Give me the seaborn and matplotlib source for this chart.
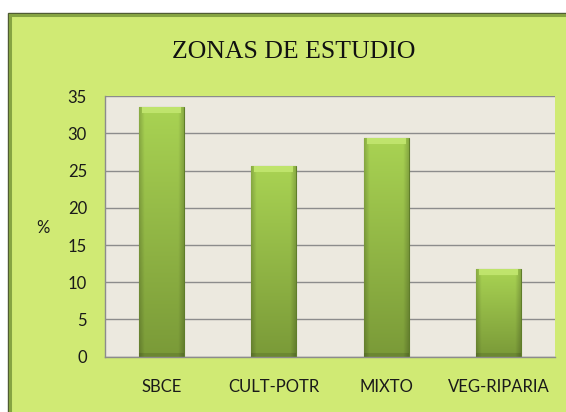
import numpy as np
import pandas as pd
import seaborn as sns
import matplotlib.pyplot as plt
from matplotlib.patches import Rectangle
from matplotlib.colors import to_rgb

# datos
categorias = ["SBCE", "CULT-POTR", "MIXTO", "VEG-RIPARIA"]
porcentajes = [33.5, 25.6, 29.4, 11.8]
y_ticks = [0, 5, 10, 15, 20, 25, 30, 35]

df = pd.DataFrame({"zona": categorias, "pct": porcentajes})

sns.set_theme(style="white")
plt.rcParams["font.family"] = ["Lato", "DejaVu Sans"]

W, H = 566, 412
fig = plt.figure(figsize=(W / 100, H / 100), dpi=100)
fig.patch.set_facecolor("white")

# marco exterior del grafico (estilo Excel)
fig.patches.append(Rectangle((8 / W, -0.1), 1.2, 1.1 - 13.5 / H,
                             transform=fig.transFigure, facecolor="#d0ea74",
                             edgecolor="#4e5a32", lw=1.0, zorder=-10))
fig.patches.append(Rectangle((10 / W, -0.1), 1.2, 1.1 - 15.5 / H,
                             transform=fig.transFigure, facecolor="none",
                             edgecolor="#86a442", lw=2.2, zorder=-9))

ax = fig.add_axes([105 / W, (H - 356.7) / H, 450 / W, 260.5 / H])
ax.set_facecolor("#ece9df")

sns.barplot(data=df, x="zona", y="pct", color="#96c048", width=0.4,
            edgecolor="#5f7d2a", linewidth=0.8, ax=ax, zorder=3)

# degradado / bisel de las barras
px_per_unit = 260.5 / 35
top_c = np.array(to_rgb("#a9d353"))
bot_c = np.array(to_rgb("#7a9a38"))
bevel_c = np.array(to_rgb("#bfe46c"))
for p in list(ax.patches):
    x0, y0, w, h = p.get_x(), p.get_y(), p.get_width(), p.get_height()
    nr = max(int(h * px_per_unit), 2)
    nc = 45
    t = np.linspace(0, 1, nr)[:, None]  # 0 arriba, 1 abajo
    col = (1 - t)[..., None] * top_c + t[..., None] * bot_c
    col = np.repeat(col, nc, axis=1)
    u = np.linspace(0, 1, nc)
    side = np.clip(np.minimum(u, 1 - u) / 0.12, 0, 1)
    shade = 0.82 + 0.18 * side
    col = col * shade[None, :, None]
    col[:6, 3:-3] = bevel_c
    col[-4:] *= 0.88
    im = ax.imshow(col, extent=[x0, x0 + w, y0, y0 + h], aspect="auto",
                   origin="upper", zorder=4, interpolation="bilinear")
    im.set_clip_path(p)

ax.set_xlim(-0.5, 3.5)
ax.set_ylim(0, 35)
ax.set_yticks(y_ticks)
ax.yaxis.grid(True, color="#8c8c8c", lw=1.0)
ax.set_axisbelow(True)
for s in ["top", "right"]:
    ax.spines[s].set_visible(False)
for s in ["left", "bottom"]:
    ax.spines[s].set_color("#8c8c8c")
    ax.spines[s].set_linewidth(1.0)
    ax.spines[s].set_zorder(5)
ax.tick_params(axis="both", length=0, labelsize=12, colors="#1a1a1a")
ax.tick_params(axis="y", pad=13)
ax.tick_params(axis="x", pad=16)

ax.set_xlabel("")
ax.set_ylabel("%", rotation=0, fontsize=12, color="#1a1a1a", ha="center", va="center")
ax.yaxis.set_label_coords((43 - 105) / 450, (356.7 - 228) / 260.5)

fig.text(293.7 / W, 1 - 51.5 / H, "ZONAS DE ESTUDIO", ha="center", va="center",
         fontsize=18.5, family=["Liberation Serif", "DejaVu Serif"], color="#111111")

fig.savefig("out.png", dpi=100)
